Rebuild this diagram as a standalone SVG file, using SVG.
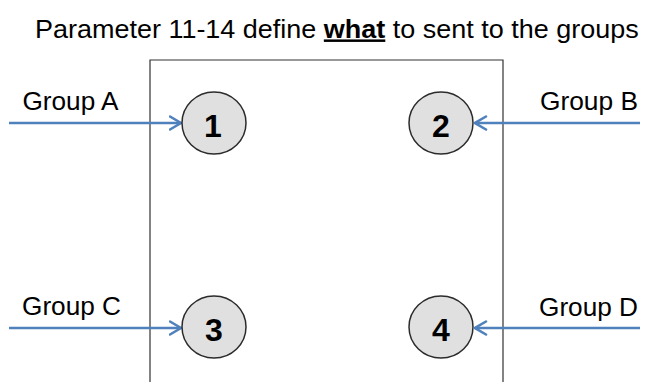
<svg xmlns="http://www.w3.org/2000/svg" width="646" height="382" viewBox="0 0 646 382">
<style>
.t{font-family:"Liberation Sans",Arial,sans-serif;fill:#000}
.lbl{font-size:25px}
.num{font-family:"Liberation Sans",Arial,sans-serif;font-weight:bold;font-size:32px;fill:#000;text-anchor:middle}
.node{fill:#e0e0e0;stroke:#2b2b2b;stroke-width:1.5}
.conn{stroke:#4f81bd;stroke-width:2.6;fill:none}
</style>
<defs>
<marker id="ah" markerUnits="userSpaceOnUse" viewBox="0 0 14 16" markerWidth="14" markerHeight="16" refX="12.5" refY="8" orient="auto">
<path d="M1.5,1.5 L12.5,8 L1.5,14.5" fill="none" stroke="#4f81bd" stroke-width="2.6" stroke-linecap="round" stroke-linejoin="miter"/>
</marker>
</defs>
<rect width="646" height="382" fill="#fff"/>
<text class="t" font-size="25" transform="translate(35,37.5) scale(1.079,1)">Parameter 11-14 define <tspan font-weight="bold" text-decoration="underline">what</tspan> to sent to the groups</text>
<g id="frame">
<path d="M150,383 L150,60 L503,60 L503,383" fill="none" stroke="#333" stroke-width="1.2"/>
</g>
<g id="labels">
<text class="t lbl" x="22.5" y="110" textLength="96" lengthAdjust="spacingAndGlyphs">Group A</text>
<text class="t lbl" x="540" y="110" textLength="98" lengthAdjust="spacingAndGlyphs">Group B</text>
<text class="t lbl" x="22" y="315" textLength="99" lengthAdjust="spacingAndGlyphs">Group C</text>
<text class="t lbl" x="539" y="316" textLength="99" lengthAdjust="spacingAndGlyphs">Group D</text>
</g>
<g id="connectors">
<path class="conn" d="M9,123 L181,123" marker-end="url(#ah)"/>
<path class="conn" d="M640,123 L475,123" marker-end="url(#ah)"/>
<path class="conn" d="M9,328 L181,328" marker-end="url(#ah)"/>
<path class="conn" d="M640,328 L475,328" marker-end="url(#ah)"/>
</g>
<g id="node1">
<ellipse class="node" cx="214" cy="123" rx="32" ry="31"/>
<text class="num" x="213" y="137">1</text>
</g>
<g id="node2">
<ellipse class="node" cx="441" cy="123" rx="32" ry="31"/>
<text class="num" x="441" y="137">2</text>
</g>
<g id="node3">
<ellipse class="node" cx="214" cy="327" rx="32" ry="31"/>
<text class="num" x="214" y="341">3</text>
</g>
<g id="node4">
<ellipse class="node" cx="441" cy="327" rx="32" ry="31"/>
<text class="num" x="441" y="341">4</text>
</g>
</svg>
